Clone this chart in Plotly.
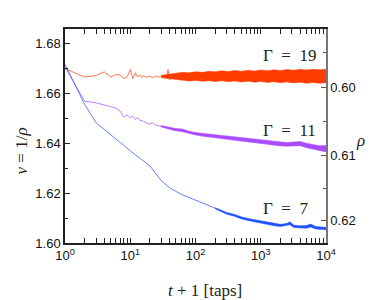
import plotly.graph_objects as go

# ---------------- data ----------------
# x = t+1 [taps], v = 1/rho
red_x = [1, 2, 3, 4, 5, 6, 7, 8, 9, 10, 11, 12, 13, 14, 15, 16, 18, 20, 22, 25, 28, 32, 36, 38, 40, 44, 48, 52, 56, 60]
red_v = [1.6701, 1.6667, 1.6673, 1.6688, 1.6667, 1.6677, 1.6675, 1.6661, 1.6668, 1.6697, 1.6661, 1.6684, 1.6667,
         1.6676, 1.6665, 1.6672, 1.6666, 1.6670, 1.6664, 1.6671, 1.6666, 1.6673, 1.6665, 1.6697, 1.6655, 1.6675,
         1.6660, 1.6680, 1.6658, 1.6676]
red_band_x = [30, 40, 50, 63, 80, 100, 130, 160, 200, 250, 320, 400, 500, 650, 800, 1000, 1300, 1600, 2000, 2500,
              3200, 4000, 5000, 6300, 8000, 10000]
red_band_lo = [1.6664, 1.6660, 1.6657, 1.6655, 1.6651, 1.6653, 1.6650, 1.6652, 1.6649, 1.6652, 1.6648, 1.6651,
               1.6647, 1.6650, 1.6646, 1.6649, 1.6645, 1.6648, 1.6644, 1.6647, 1.6643, 1.6646, 1.6642, 1.6645,
               1.6642, 1.6644]
red_band_hi = [1.6674, 1.6680, 1.6682, 1.6686, 1.6684, 1.6688, 1.6686, 1.6690, 1.6688, 1.6692, 1.6689, 1.6693,
               1.6690, 1.6694, 1.6691, 1.6695, 1.6692, 1.6696, 1.6693, 1.6697, 1.6694, 1.6698, 1.6695, 1.6698,
               1.6696, 1.6698]

purple_x = [1, 2, 3, 4, 5, 6, 7, 8, 9, 10, 11, 12, 13, 14, 16, 18, 20, 22, 25, 28, 32, 36, 40, 45, 50]
purple_v = [1.6707, 1.6570, 1.6563, 1.6556, 1.6548, 1.6542, 1.6530, 1.6506, 1.6514, 1.6503, 1.6510, 1.6496,
            1.6504, 1.6493, 1.6490, 1.6481, 1.6478, 1.6483, 1.6473, 1.6471, 1.6466, 1.6462, 1.6460, 1.6454, 1.6455]
purple_band_x = [30, 40, 50, 63, 80, 100, 130, 160, 200, 250, 320, 400, 500, 650, 800, 1000, 1300, 1600, 2000,
                 2500, 3200, 4000, 5000, 6300, 8000, 10000]
purple_band_lo = [1.6466, 1.6456, 1.6451, 1.6447, 1.6439, 1.6434, 1.6429, 1.6426, 1.6421, 1.6419, 1.6415, 1.6412,
                  1.6409, 1.6405, 1.6403, 1.6399, 1.6396, 1.6393, 1.6390, 1.6389, 1.6389, 1.6391, 1.6383, 1.6377,
                  1.6372, 1.6366]
purple_band_hi = [1.6472, 1.6464, 1.6460, 1.6458, 1.6449, 1.6444, 1.6441, 1.6437, 1.6435, 1.6432, 1.6430, 1.6427,
                  1.6425, 1.6421, 1.6419, 1.6415, 1.6412, 1.6409, 1.6405, 1.6404, 1.6406, 1.6408, 1.6401, 1.6395,
                  1.6391, 1.6392]

blue_x = [1, 2, 3, 4, 5, 6, 7, 8, 9, 10, 15, 20, 30, 40, 60, 100, 150, 200, 300, 500, 700, 1000, 1500, 2000,
          2800, 3200, 4500, 5800, 7000, 10000]
blue_v = [1.6718, 1.6557, 1.6483, 1.6455, 1.6435, 1.6419, 1.6404, 1.6392, 1.6380, 1.6370, 1.6335, 1.6310,
          1.6250, 1.6222, 1.6196, 1.6173, 1.6155, 1.6140, 1.6120, 1.6100, 1.6090, 1.6082, 1.6075, 1.6071,
          1.6079, 1.6067, 1.6063, 1.6071, 1.6062, 1.6058]
blue_band_x = [200, 300, 400, 500, 650, 800, 1000, 1300, 1600, 2000, 2500, 2800, 3200, 4000, 5000, 5800, 7000,
               8000, 10000]
blue_band_lo = [1.6138, 1.6116, 1.6107, 1.6097, 1.6090, 1.6085, 1.6078, 1.6074, 1.6069, 1.6066, 1.6069, 1.6073,
                1.6062, 1.6060, 1.6059, 1.6064, 1.6056, 1.6055, 1.6053]
blue_band_hi = [1.6142, 1.6123, 1.6115, 1.6105, 1.6098, 1.6094, 1.6087, 1.6082, 1.6079, 1.6075, 1.6078, 1.6085,
                1.6072, 1.6069, 1.6070, 1.6076, 1.6066, 1.6065, 1.6063]

x_major = [1, 10, 100, 1000, 10000]
x_major_text = ["10<sup>0</sup>", "10<sup>1</sup>", "10<sup>2</sup>", "10<sup>3</sup>", "10<sup>4</sup>"]
v_major = [1.60, 1.62, 1.64, 1.66, 1.68]
rho_major = [0.60, 0.61, 0.62]
rho_minor = [0.595, 0.605, 0.615]
rho_shift = 0.004  # vertical offset of the rho scale as drawn in the reference

RED = "#ff3c00"
PURPLE = "#a94cff"
BLUE = "#1f50ff"

fig = go.Figure()


def add_series(x, v, bx, lo, hi, color, lw):
    fig.add_trace(go.Scatter(x=bx, y=lo, mode="lines", line=dict(color=color, width=0.5),
                             showlegend=False, hoverinfo="skip"))
    fig.add_trace(go.Scatter(x=bx, y=hi, mode="lines", line=dict(color=color, width=0.5),
                             fill="tonexty", fillcolor=color, showlegend=False, hoverinfo="skip"))
    fig.add_trace(go.Scatter(x=x, y=v, mode="lines", line=dict(color=color, width=lw),
                             opacity=0.7, showlegend=False))


add_series(red_x, red_v, red_band_x, red_band_lo, red_band_hi, RED, 1.0)
add_series(purple_x, purple_v, purple_band_x, purple_band_lo, purple_band_hi, PURPLE, 1.0)
add_series(blue_x, blue_v, blue_band_x, blue_band_lo, blue_band_hi, BLUE, 1.0)

# invisible trace to activate the right axis
fig.add_trace(go.Scatter(x=[1], y=[1.64], yaxis="y2", mode="markers", marker=dict(opacity=0),
                         showlegend=False, hoverinfo="skip"))

x_minor = [m * d for d in [1, 10, 100, 1000] for m in range(2, 10)]
tick_font = dict(family="Liberation Sans, Arial, sans-serif", size=13, color="#111")
v_range = [1.60, 1.686]

fig.update_layout(
    width=374, height=300,
    margin=dict(l=57, r=56, t=21, b=65),
    paper_bgcolor="white", plot_bgcolor="white",
    font=tick_font,
    xaxis=dict(type="log", range=[0, 4], tickmode="array", tickvals=x_major, ticktext=x_major_text,
               ticks="inside", ticklen=5, tickwidth=1, tickcolor="#222",
               showline=True, linecolor="#222", linewidth=1.5, mirror="allticks",
               showgrid=False, zeroline=False,
               minor=dict(tickmode="array", tickvals=x_minor, ticks="inside", ticklen=3,
                          tickcolor="#222", showgrid=False)),
    yaxis=dict(range=v_range, tickmode="array", tickvals=v_major, ticktext=[f"{t:.2f}" for t in v_major],
               ticks="inside", ticklen=5, tickwidth=1, tickcolor="#222",
               showline=True, linecolor="#222", linewidth=1.5,
               showgrid=False, zeroline=False,
               minor=dict(dtick=0.01, ticks="inside", ticklen=3, tickcolor="#222", showgrid=False)),
    yaxis2=dict(overlaying="y", side="right", range=v_range, tickmode="array",
                tickvals=[1 / r - rho_shift for r in rho_major], ticktext=[f"{r:.2f}" for r in rho_major],
                ticks="inside", ticklen=5, tickwidth=1, tickcolor="#555",
                showline=True, linecolor="#777", linewidth=1.5, showgrid=False, zeroline=False,
                minor=dict(tickmode="array", tickvals=[1 / r - rho_shift for r in rho_minor],
                           ticks="inside", ticklen=3, tickcolor="#555", showgrid=False)),
)

serif = dict(family="Liberation Serif, Times New Roman, serif", size=17, color="#222")
ann = [
    dict(x=0.862, y=0.874, text="Γ\u2002=\u200219"),
    dict(x=0.862, y=0.528, text="Γ\u2002=\u200211"),
    dict(x=0.843, y=0.159, text="Γ\u2002=\u20027"),
    dict(x=1.134, y=0.481, text="<i>ρ</i>"),
    dict(x=0.536, y=-0.222, text="<i>t</i> + 1 [taps]"),
    dict(x=-0.163, y=0.43, text="<i>v</i> = 1/<i>ρ</i>", textangle=-90),
]
for a in ann:
    fig.add_annotation(xref="paper", yref="paper", showarrow=False, font=serif,
                       xanchor="center", yanchor="middle", **a)

fig.write_html("out.html")
